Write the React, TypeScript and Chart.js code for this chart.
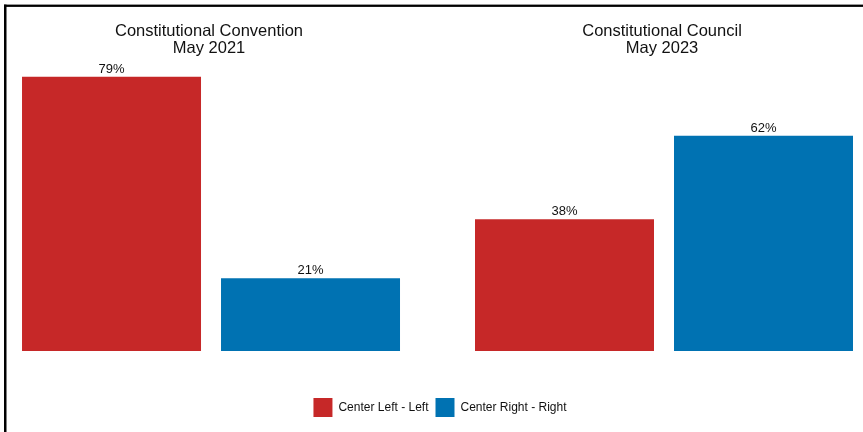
import React, { useEffect, useRef } from 'react';
import { Chart, registerables } from 'chart.js';

Chart.register(...registerables);

const categories: string[][] = [
  ['Constitutional Convention', 'May 2021'],
  ['Constitutional Council', 'May 2023'],
];
const seriesNames = ['Center Left - Left', 'Center Right - Right'];
const centerLeftValues = [79, 38];
const centerRightValues = [21, 62];
const seriesColors = ['#C62828', '#0072B2'];

const FONT = "'Liberation Sans', Arial, Helvetica, sans-serif";

const framePlugin = {
  id: 'frame',
  beforeDraw(chart: any) {
    const { ctx, width, height } = chart;
    ctx.save();
    ctx.fillStyle = '#ffffff';
    ctx.fillRect(0, 0, width, height);
    ctx.fillStyle = '#000000';
    ctx.fillRect(4, 4.6, width - 4, 2.3);
    ctx.fillRect(4, 4.6, 2.5, height);
    ctx.restore();
  },
};

const labelsPlugin = {
  id: 'labels',
  afterDatasetsDraw(chart: any) {
    const { ctx } = chart;
    ctx.save();
    ctx.font = `13px ${FONT}`;
    ctx.fillStyle = '#111111';
    ctx.textAlign = 'center';
    ctx.textBaseline = 'alphabetic';
    chart.data.datasets.forEach((ds: any, di: number) => {
      const meta = chart.getDatasetMeta(di);
      meta.data.forEach((el: any, i: number) => {
        const v = ds.data[i].y;
        ctx.fillText(`${v}%`, el.x, el.y - 4);
      });
    });
    // group titles
    const xs = chart.scales.x;
    const top = chart.chartArea.top;
    ctx.font = `16.5px ${FONT}`;
    ctx.fillStyle = '#111111';
    categories.forEach((lines, i) => {
      const x = xs.getPixelForValue(i) - 2;
      lines.forEach((line, li) => {
        ctx.fillText(line, x, top + 32 + li * 16.5);
      });
    });
    ctx.restore();
  },
};

export default function App() {
  const canvasRef = useRef<HTMLCanvasElement | null>(null);

  useEffect(() => {
    if (!canvasRef.current) return;
    const seriesValues = [centerLeftValues, centerRightValues];
    const chart = new Chart(canvasRef.current, {
      type: 'bar',
      data: {
        datasets: seriesNames.map((name, si) => ({
          label: name,
          data: categories.map((_, i) => ({ x: i, y: seriesValues[si][i] })),
          backgroundColor: seriesColors[si],
          borderWidth: 0,
          categoryPercentage: 0.8786,
          barPercentage: 0.8995,
        })),
      },
      options: {
        animation: false,
        responsive: true,
        maintainAspectRatio: false,
        layout: { padding: { left: 17, right: 0, top: 4, bottom: 5 } },
        scales: {
          x: {
            type: 'linear',
            offset: false,
            min: -0.4283,
            max: 1.4393,
            grid: { display: false },
            border: { display: false },
            ticks: { display: false },
            afterBuildTicks: (s: any) => {
              s.ticks = categories.map((_, i) => ({ value: i }));
            },
            afterFit: (s: any) => {
              s.height = 40;
            },
          },
          y: { display: false, min: 0, max: 100 },
        },
        plugins: {
          legend: {
            position: 'bottom',
            labels: {
              boxWidth: 19,
              boxHeight: 19,
              padding: 7,
              color: '#111111',
              font: { family: FONT, size: 12 },
            },
          },
          tooltip: { enabled: false },
          title: { display: false },
        },
      } as any,
      plugins: [framePlugin, labelsPlugin],
    });
    return () => chart.destroy();
  }, []);

  return (
    <div style={{ position: 'absolute', left: 0, top: 0, width: 863, height: 432 }}>
      <canvas ref={canvasRef} />
    </div>
  );
}
